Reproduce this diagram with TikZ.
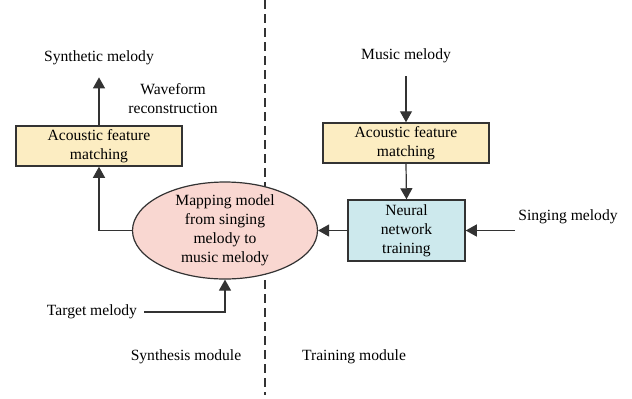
\documentclass[tikz,border=0pt]{standalone}
\usepackage{fontspec}
\setmainfont{Liberation Serif}
\usepackage{xcolor}
\usetikzlibrary{arrows.meta}
\usetikzlibrary{shapes.geometric}
\tikzset{>={Triangle[length=5.5pt,width=6pt]}}

\definecolor{boxyellow}{HTML}{FCEDC2}
\definecolor{boxpink}{HTML}{F9D7D1}
\definecolor{boxcyan}{HTML}{CDE9ED}
\definecolor{linegray}{HTML}{333333}

\begin{document}
\begin{tikzpicture}[x=0.5pt, y=-0.5pt, line width=0.6pt, draw=linegray,
  font=\fontsize{7.8}{9.5}\selectfont]

  \tikzset{afm/.style={draw, line width=0.75pt, fill=boxyellow, align=center, minimum width=83pt, minimum height=20pt, inner sep=1pt},
           nnbox/.style={draw, line width=0.75pt, fill=boxcyan, align=center, minimum width=58.5pt, minimum height=30.5pt, inner sep=1pt},
           mapell/.style={draw, ellipse, fill=boxpink, align=center, minimum width=92.5pt, minimum height=48.5pt,
                          inner xsep=0pt, inner ysep=-2pt},
           lbl/.style={align=center}}

  \useasboundingbox (0,0) rectangle (632,398);

  % module divider
  \draw[dash pattern=on 4.5pt off 2.5pt] (265,0) -- (265,395);

  % synthesis side
  \node[lbl] (synth) at (99,58) {Synthetic melody};
  \node[lbl] (wave) at (173,99) {Waveform\\reconstruction};
  \node[afm] (afmL) at (99,146) {Acoustic feature\\matching};
  \node[mapell] (map) at (225,230.5) {Mapping model\\from singing\\melody to\\music melody};
  \node[lbl] (target) at (92,312) {Target melody};
  \node[lbl] (synmod) at (186,357) {Synthesis module};

  % training side
  \node[lbl] (music) at (406,56) {Music melody};
  \node[afm] (afmR) at (406,143) {Acoustic feature\\matching};
  \node[nnbox] (nnt) at (406.5,230.5) {Neural\\network\\training};
  \node[lbl] (sing) at (568,217) {Singing melody};
  \coordinate (singin) at (515,230.5);
  \node[lbl] (trmod) at (354,357) {Training module};

  % connectors
  \draw[->, shorten >=2.5pt] (afmL.north) -- (synth.south);
  \draw[->] (map.west) -| (afmL.south);
  \draw[->] (target.east) -| (map.south);
  \draw[->, shorten <=3pt] (music.south) -- (afmR.north);
  \draw[->] (afmR.south) -- (nnt.north);
  \draw[->] (nnt.west) -- (map.east);
  \draw[->] (singin) -- (nnt.east);

\end{tikzpicture}
\end{document}
